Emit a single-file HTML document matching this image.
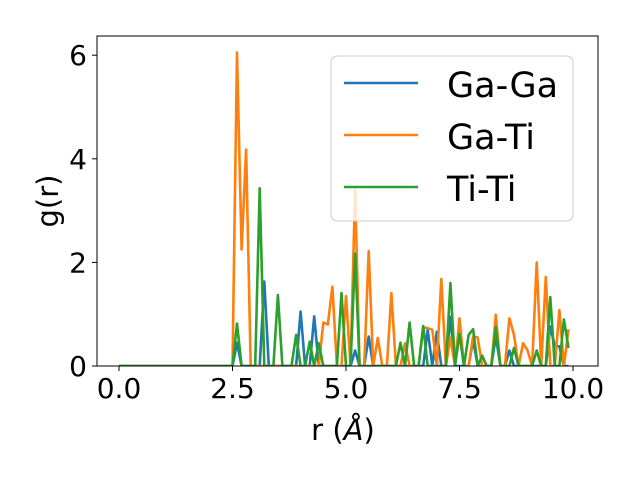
<!DOCTYPE html>
<html><head><meta charset="utf-8"><style>
html,body{margin:0;padding:0;background:#fff;}
svg text{font-family:"DejaVu Sans","Liberation Sans",sans-serif;fill:#000;}
</style></head><body>
<svg width="640" height="480" viewBox="0 0 640 480">
<g id="plot"></g>
</svg>
<script>
const rValues = Array.from({length:100},(_, i)=>i/10);
const gaGa = new Array(100).fill(0);
const gaTi = new Array(100).fill(0);
const tiTi = new Array(100).fill(0);
const gaGaPts = {26:0.45,32:1.63,40:1.05,43:0.96,52:0.3,55:0.57,68:0.7,70:0.66,73:0.95,78:0.5,83:0.57,86:0.3,95:0.76,96:0.38,97:0.38};
const gaTiPts = {26:6.05,27:2.25,28:4.18,45:0.84,46:0.8,47:1.53,50:1.35,52:3.4,55:2.22,57:0.54,60:1.41,63:0.44,67:0.75,68:0.73,69:0.7,71:1.68,73:0.55,75:0.92,78:0.57,79:0.55,83:0.99,86:0.92,87:0.6,89:0.44,90:0.3,92:2.0,94:1.72,97:1.08,99:0.71};
const tiTiPts = {26:0.82,31:3.43,35:1.37,39:0.6,42:0.47,44:0.44,49:1.41,52:2.17,62:0.45,64:0.84,67:0.77,73:1.6,75:0.62,77:0.6,78:0.71,80:0.2,83:0.75,87:0.35,92:0.3,95:1.33,98:0.9,99:0.35};
for(const k in gaGaPts) gaGa[k]=gaGaPts[k];
for(const k in gaTiPts) gaTi[k]=gaTiPts[k];
for(const k in tiTiPts) tiTi[k]=tiTiPts[k];
const xTicks = [0,2.5,5,7.5,10];
const xTickLabels = ["0.0","2.5","5.0","7.5","10.0"];
const yTicks = [0,2,4,6];
const yTickLabels = ["0","2","4","6"];
const seriesNames = ["Ga-Ga","Ga-Ti","Ti-Ti"];
const colors = ["#1f77b4","#ff7f0e","#2ca02c"];

const NS="http://www.w3.org/2000/svg";
const g=document.getElementById('plot');
const L=97,R=598,T=36,B=366;
const xs=v=>119+v*45.4;
const ys=v=>366-v*51.8;
function mk(tag,attrs,parent){const e=document.createElementNS(NS,tag);for(const k in attrs)e.setAttribute(k,attrs[k]);(parent||g).appendChild(e);return e;}

const clip=mk('clipPath',{id:'c'});mk('rect',{x:L,y:T,width:R-L,height:B-T},clip);
[gaGa,gaTi,tiTi].forEach((s,si)=>{
  const d=s.map((v,i)=>(i?'L':'M')+xs(rValues[i]).toFixed(1)+','+ys(v).toFixed(1)).join('');
  const p=mk('path',{d:d,fill:'none',stroke:colors[si],'stroke-width':2.6,'stroke-linejoin':'round','clip-path':'url(#c)'});
  
  
});
const frame=mk('rect',{x:L,y:T,width:R-L,height:B-T,fill:'none',stroke:'#000','stroke-width':1});


xTicks.forEach((v,i)=>{
  const x=xs(v);
  mk('line',{x1:x,x2:x,y1:B,y2:B+5,stroke:'#000'});
  const t=mk('text',{x:x,y:B+32,'text-anchor':'middle','font-size':28});
  t.textContent=xTickLabels[i];
  
  
});
yTicks.forEach((v,i)=>{
  const y=ys(v);
  mk('line',{x1:L-5,x2:L,y1:y,y2:y,stroke:'#000'});
  const t=mk('text',{x:L-10,y:y+10,'text-anchor':'end','font-size':28});
  t.textContent=yTickLabels[i];
  
  
});
const xl=mk('text',{x:343,y:440,'text-anchor':'middle','font-size':29});
xl.innerHTML='r (<tspan font-style="italic">Å</tspan>)';


const yl=mk('text',{x:58,y:201,'text-anchor':'middle','font-size':29,transform:'rotate(-90 58 201)'});
yl.textContent='g(r)';


const lg=mk('g',{});


mk('rect',{x:331,y:56,width:242,height:165,rx:6,fill:'#fff','fill-opacity':0.8,stroke:'#ccc'},lg);
seriesNames.forEach((n,i)=>{
  const y=83+i*52;
  mk('line',{x1:344,x2:418,y1:y,y2:y,stroke:colors[i],'stroke-width':2.6},lg);
  const t=mk('text',{x:447,y:y+14,'font-size':35},lg);
  t.textContent=n;
  
  
});
</script>
</body></html>
